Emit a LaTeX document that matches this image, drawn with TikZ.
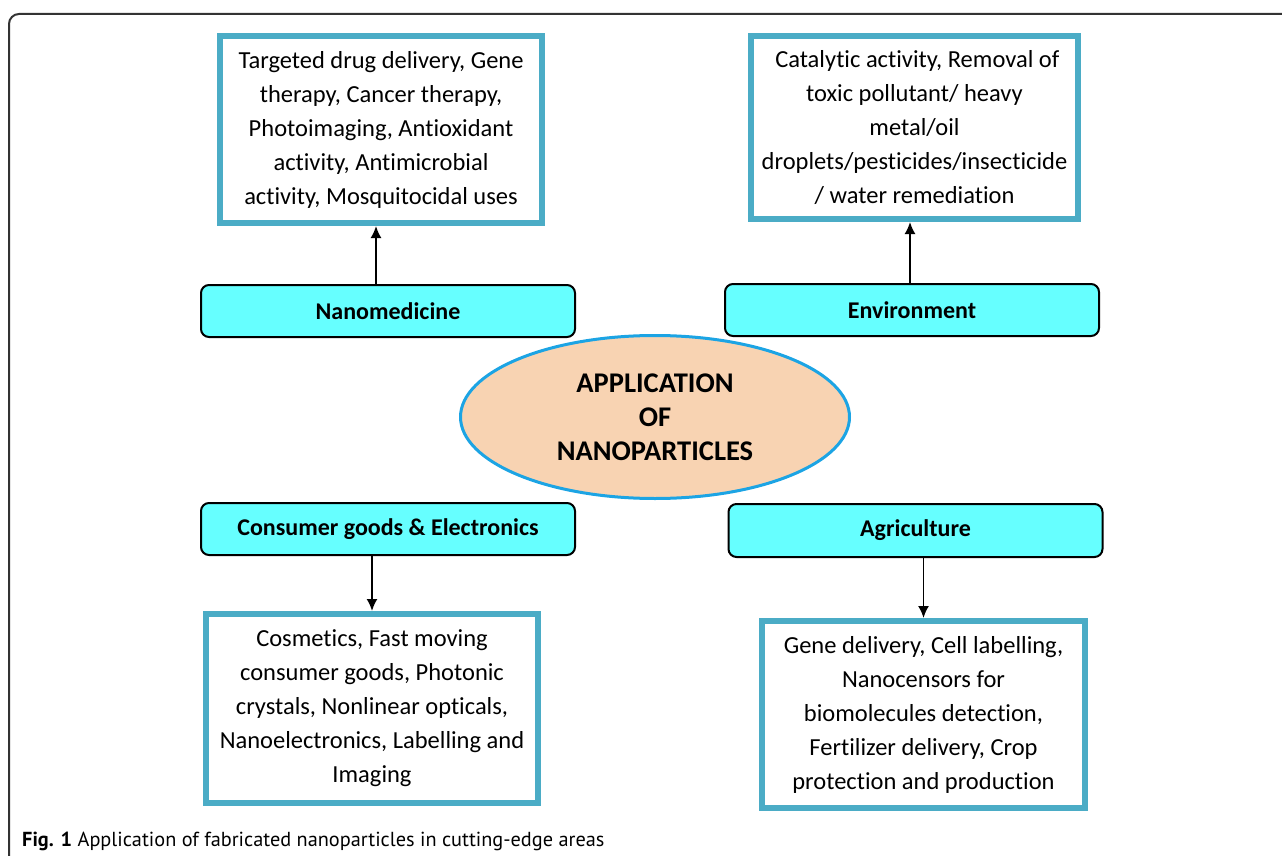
\documentclass[tikz,border=0pt]{standalone}
\usepackage{fontspec}
\setmainfont{Carlito}[Ligatures=NoCommon]
\newfontfamily\capfont{PT Sans}
\usetikzlibrary{shapes.geometric, arrows.meta}
\definecolor{boxteal}{HTML}{4BACC6}
\definecolor{boxcyan}{HTML}{66FFFF}
\definecolor{peach}{HTML}{F8D3B2}
\definecolor{ringblue}{HTML}{1CA4E4}
\definecolor{framegray}{HTML}{333333}
\begin{document}
\begin{tikzpicture}[x=1pt,y=-1pt]
\tikzset{ >={Latex[length=12pt,width=11pt]},
  usesbox/.style={draw=boxteal, line width=6pt, fill=white, align=center,
    font=\fontsize{24.5}{34}\selectfont, inner sep=0pt},
  areabox/.style={draw=black, line width=2pt, fill=boxcyan, rounded corners=8pt,
    minimum width=374pt, minimum height=52pt, font=\fontsize{24}{28}\bfseries},
  link/.style={->, line width=1.8pt},
}
\useasboundingbox (0,0) rectangle (1282,856);
%\draw [lightgray, dashed](0,0) grid [step=50] (1282,856);

% page frame
\draw [framegray, line width=2pt, rounded corners=10pt] (9,860) -- (9,14) -- (1290,14);

% application lists
\node [usesbox, minimum width=322pt, minimum height=187pt] (drugs) at (381,129.5)
  {Targeted drug delivery, Gene\\therapy, Cancer therapy,\\Photoimaging, Antioxidant\\activity, Antimicrobial\\activity, Mosquitocidal uses};
\node [usesbox, minimum width=327pt, minimum height=183pt] (clean) at (914.5,127.5)
  {\ Catalytic activity, Removal of\\toxic pollutant/ heavy\\metal/oil\\droplets/pesticides/insecticide\\/ water remediation};
\node [usesbox, minimum width=332pt, minimum height=189pt] (goods) at (372,708.5)
  {Cosmetics, Fast moving\\consumer goods, Photonic\\crystals, Nonlinear opticals,\\Nanoelectronics, Labelling and\\Imaging};
\node [usesbox, minimum width=323pt, minimum height=187pt] (crops) at (923.5,714.5)
  {Gene delivery, Cell labelling,\\Nanocensors for\\biomolecules detection,\\Fertilizer delivery, Crop\\protection and production};

% areas
\node [areabox] (medicine) at (388,311) {Nanomedicine};
\node [areabox] (environ) at (912,310) {Environment};
\node [areabox] (consumer) at (388,529) {Consumer goods \& Electronics};
\node [areabox, minimum height=53pt] (agri) at (915.5,530.5) {Agriculture};

% centre
\node [ellipse, draw=ringblue, line width=3pt, fill=peach, minimum width=389pt,
  minimum height=163pt, align=center, font=\fontsize{28.5}{34}\bfseries\selectfont]
  (core) at (655,417) {APPLICATION\\OF\\NANOPARTICLES};

\draw [link] ([xshift=-5pt]drugs.south |- medicine.north) -- ([xshift=-5pt]drugs.south);
\draw [link] ([xshift=-4.5pt]clean.south |- environ.north) -- ([xshift=-4.5pt]clean.south);
\draw [link] (consumer.south -| goods.north) -- (goods.north);
\draw [link] (agri.south -| crops.north) -- (crops.north);

% caption
\node [anchor=base west, inner sep=0pt, font=\capfont\fontsize{20.3}{22}\selectfont] (caption) at (22,846)
  {\textbf{Fig. 1} Application of fabricated nanoparticles in cutting-edge areas};

\end{tikzpicture}
\end{document}
